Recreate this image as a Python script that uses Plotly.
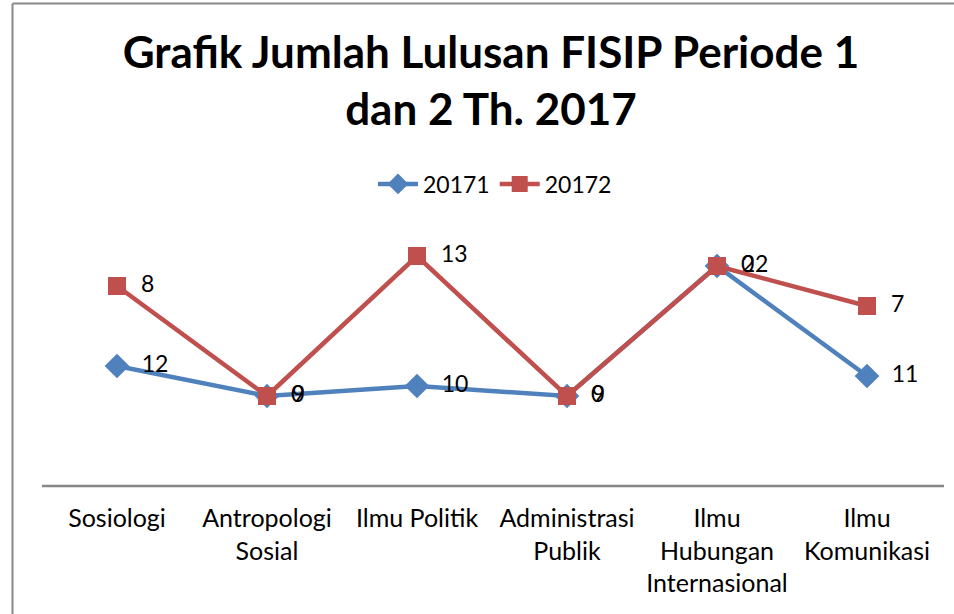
import plotly.graph_objects as go

categories = ["Sosiologi", "Antropologi<br>Sosial", "Ilmu Politik", "Administrasi<br>Publik",
              "Ilmu<br>Hubungan<br>Internasional", "Ilmu<br>Komunikasi"]
series_names = ["20171", "20172"]
values_20171 = [12, 9, 10, 9, 22, 11]
values_20172 = [8, 0, 13, 0, 0, 7]

W, H = 954, 614
FONT = "Lato"
PAD = "\u00a0\u00a0"

fig = go.Figure()
fig.add_trace(go.Scatter(
    x=categories, y=values_20171, name=series_names[0], stackgroup="s", fill="none",
    mode="lines+markers+text", text=[PAD + str(v) for v in values_20171], textposition="middle right",
    textfont=dict(size=23, color="black", family=FONT),
    line=dict(color="#4F81BD", width=4.5),
    marker=dict(symbol="diamond", size=19, color="#4F81BD"),
))
fig.add_trace(go.Scatter(
    x=categories, y=values_20172, name=series_names[1], stackgroup="s", fill="none",
    mode="lines+markers+text", text=[PAD + str(v) for v in values_20172], textposition="middle right",
    textfont=dict(size=23, color="black", family=FONT),
    line=dict(color="#C0504D", width=4.5),
    marker=dict(symbol="square", size=18, color="#C0504D"),
))

def px_x(p):
    return p / W

def px_y(p):
    return 1 - p / H

fig.update_layout(
    width=W, height=H,
    margin=dict(l=0, r=0, t=0, b=0),
    paper_bgcolor="white", plot_bgcolor="white",
    font=dict(family=FONT, color="black"),
    title=dict(text="<b>Grafik Jumlah Lulusan FISIP Periode 1<br>dan 2 Th. 2017</b>",
               x=px_x(491), xanchor="center", y=px_y(68), yanchor="top",
               font=dict(size=44, family=FONT, color="black")),
    showlegend=True,
    legend=dict(orientation="h", x=px_x(495), xanchor="center", y=px_y(184), yanchor="middle",
                font=dict(size=23, family=FONT, color="black"), bgcolor="rgba(0,0,0,0)",
                traceorder="normal", itemwidth=40),
    xaxis=dict(domain=[px_x(42), px_x(942)], range=[-0.5, 5.5], showgrid=False, zeroline=False,
               showline=False, ticks="", ticklabelstandoff=15,
               tickfont=dict(size=25, family=FONT, color="black")),
    yaxis=dict(domain=[px_y(486), px_y(236)], range=[0, 25], visible=False, showgrid=False),
    shapes=[
        dict(type="line", xref="paper", yref="paper", x0=px_x(42), x1=px_x(944), y0=px_y(486), y1=px_y(486),
             line=dict(color="#868686", width=2.5)),
        dict(type="line", xref="paper", yref="paper", x0=px_x(12.5), x1=px_x(12.5), y0=px_y(3.5), y1=0,
             line=dict(color="#888888", width=2)),
        dict(type="line", xref="paper", yref="paper", x0=px_x(12.5), x1=1, y0=px_y(3.5), y1=px_y(3.5),
             line=dict(color="#888888", width=2)),
    ],
)

fig.write_html("out.html", config={"displayModeBar": False},
               post_script="document.body.style.margin='0px';")
